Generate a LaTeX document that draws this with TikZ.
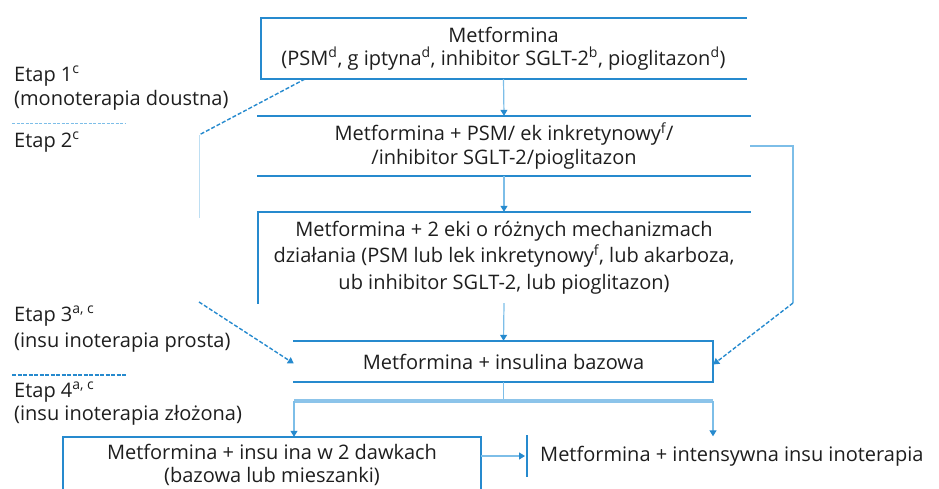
\documentclass[tikz,border=0pt]{standalone}
\usepackage{fontspec}
\setmainfont{Open Sans}
\usetikzlibrary{arrows.meta}
\definecolor{boxblue}{RGB}{38,138,206}
\definecolor{linkblue}{RGB}{125,190,232}
\definecolor{barblue}{RGB}{140,196,234}
\definecolor{txt}{RGB}{30,30,30}
\begin{document}
\begin{tikzpicture}[x=1pt,y=-1pt,
  every node/.style={text=txt, font=\fontsize{20}{23.5}\selectfont},
  stage/.style={inner sep=0pt, align=center},
  frame/.style={draw=boxblue, line width=2.4pt, line cap=rect},
  link/.style={draw=linkblue, line width=1.2pt},
  tip/.style={-{Triangle[length=6pt,width=7pt,color=boxblue]}},
  dashlink/.style={draw=boxblue, line width=1.4pt, dash pattern=on 4pt off 2pt},
  lbl/.style={inner sep=0pt, anchor=base west, align=left}]
\useasboundingbox (0,0) rectangle (939,488);
\clip (0,0) rectangle (939,488);

% stage labels on the left
\node[lbl] (e1) at (14,81) {Etap 1\textsuperscript{c}};
\node[lbl] (e1b) at (14,105) {(monoterapia doustna)};
\node[lbl] (e2) at (14,147) {Etap 2\textsuperscript{c}};
\node[lbl] (e3) at (14,321) {Etap 3\textsuperscript{a, c}};
\node[lbl] (e3b) at (14,347) {(insu inoterapia prosta)};
\node[lbl] (e4) at (14,397) {Etap 4\textsuperscript{a, c}};
\node[lbl] (e4b) at (14,420) {(insu inoterapia złożona)};
\draw[draw=linkblue, line width=0.8pt, dash pattern=on 3pt off 1.5pt] (12,123) -- (126,123);
\draw[draw=boxblue, line width=1.4pt, dash pattern=on 4pt off 1.5pt] (12,375) -- (126,375);

% treatment steps
\node[stage, minimum width=485pt, minimum height=61pt] (b1) at (503.5,48.5)
  {Metformina\\(PSM\textsuperscript{d}, g iptyna\textsuperscript{d}, inhibitor SGLT-2\textsuperscript{b}, pioglitazon\textsuperscript{d})};
\node[stage, minimum width=492pt, minimum height=60pt] (b2) at (504,146)
  {Metformina + PSM/ ek inkretynowy\textsuperscript{f}/\\/inhibitor SGLT-2/pioglitazon};
\node[stage, minimum width=492pt, minimum height=91pt,
  font=\fontsize{20}{26.5}\selectfont] (b3) at (504,257.5)
  {Metformina + 2  eki o różnych mechanizmach\\działania (PSM lub lek inkretynowy\textsuperscript{f}, lub akarboza,\\ ub inhibitor SGLT-2, lub pioglitazon)};
\node[stage, minimum width=419pt, minimum height=41pt] (b4) at (503.5,361.5)
  {Metformina + insulina bazowa};
\node[stage, minimum width=418pt, minimum height=56pt,
  font=\fontsize{20}{22.5}\selectfont] (b5) at (272,465)
  {Metformina + insu ina w 2 dawkach\\(bazowa lub mieszanki)};
\node[stage, anchor=west, inner xsep=13pt, minimum height=39pt] (b6) at (527,456)
  {Metformina + intensywna insu inoterapia};

% step outlines
\draw[frame] (b1.north east) -- (b1.north west) -- (b1.south west) -- (b1.south east);
\draw[frame] (b2.north west) -- (b2.north east);
\draw[frame] (b2.south west) -- (b2.south east);
\draw[frame] (b3.south west) -- (b3.north west) -- (b3.north east);
\draw[frame] (b4.north west) -- (b4.north east) -- (b4.south east) -- (b4.south west);
\draw[frame] (b5.south west) -- ++(0,10) (b5.south west) -- (b5.north west) -- (b5.north east) -- (b5.south east) -- ++(0,10);
\draw[frame] (b6.north west) -- (b6.south west);

% main sequence
\draw[link, tip] (b1.south) -- (b2.north);
\draw[link, tip] (b2.south) -- (b3.north);
\draw[link, tip] (b3.south) -- (b4.north);

% bypass from step 2 to basal insulin (right)
\coordinate (r1) at (793,146);
\coordinate (r2) at (793,303);
\draw[link] (b2.east) -- (r1) -- (r2);
\draw[dashlink, tip] (r2) -- ([yshift=-3pt]b4.east);

% bypass from step 1 to basal insulin (left)
\coordinate (l0) at (305,79);
\coordinate (l1) at (199,135);
\coordinate (l2) at (199,218);
\coordinate (l3) at (199,302);
\draw[dashlink] (l0) -- (l1);
\draw[draw=linkblue!50, line width=1pt] (l1) -- (l2);
\draw[dashlink, tip] (l3) -- ([yshift=-2pt]b4.west);

% split towards the two insulin intensifications
\coordinate (bl) at (294,401);
\coordinate (br) at (713,401);
\coordinate (bm) at (503.5,401);
\draw[link] (b4.south) -- (bm);
\draw[draw=barblue, line width=3.5pt] (bl) -- (br);
\draw[link, tip] (bl) -- (bl |- b5.north);
\draw[link, tip] (br) -- (br |- b6.north);
\draw[link, tip] (b5.east |- b6.west) -- ([xshift=-2pt]b6.west);
\end{tikzpicture}
\end{document}
